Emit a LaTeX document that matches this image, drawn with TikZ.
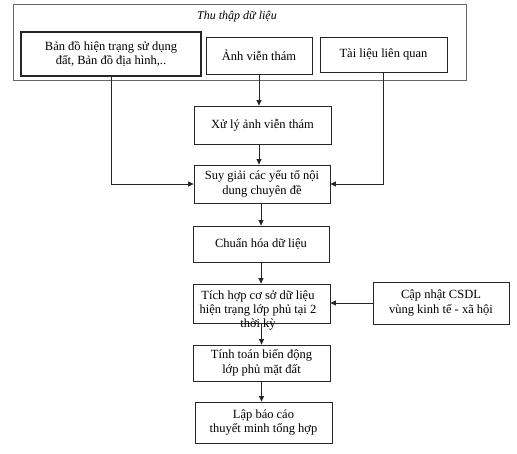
\documentclass[tikz,border=0pt]{standalone}
\usepackage{fontspec}
\setmainfont{Liberation Serif}
\usetikzlibrary{arrows.meta}
\newcommand\boxfont{\fontsize{12.5}{14.5}\selectfont}
\begin{document}
\begin{tikzpicture}[x=1pt,y=-1pt,
  box/.style={draw=black!85, line width=0.8pt, align=center, inner sep=0pt, font=\boxfont},
  outerbox/.style={draw=black!60, line width=0.8pt, inner sep=0pt},
  arr/.style={draw=black!85, line width=0.8pt, -{Triangle[length=5.5pt,width=5pt]}},
  ln/.style={draw=black!85, line width=0.8pt}]
\useasboundingbox (0,0) rectangle (517,453);
\node[outerbox, minimum width=453pt, minimum height=76pt] (outer) at (239.5,42) {};
\node[font=\itshape\fontsize{12}{14}\selectfont, inner sep=0pt] (title) at (237,17) {Thu thập dữ liệu};
\node[box, line width=1.3pt, minimum width=180pt, minimum height=44pt] (b1) at (111,54) {Bản đồ hiện trạng sử dụng\\đất, Bản đồ địa hình,..};
\node[box, minimum width=106pt, minimum height=37pt] (b2) at (259,55.5) {Ảnh viễn thám};
\node[box, minimum width=127pt, minimum height=35pt] (b3) at (383.5,54.5) {Tài liệu liên quan};
\node[box, minimum width=137pt, minimum height=38pt] (xuly) at (262.5,125) {Xử lý ảnh viễn thám};
\node[box, minimum width=136pt, minimum height=38pt] (suy) at (262,184) {Suy giải các yếu tố nội\\dung chuyên đề};
\node[box, minimum width=136pt, minimum height=36pt] (chuan) at (261,244) {Chuẩn hóa dữ liệu};
\node[box, minimum width=137pt, minimum height=39pt] (tich) at (261.5,303.5) {};
\node[font=\fontsize{12.5}{14}\selectfont, align=center, inner sep=0pt, anchor=north] (tichtext) at (258,290.5) {Tích hợp cơ sở dữ liệu\\hiện trạng lớp phủ tại 2\\thời kỳ};
\node[box, minimum width=136pt, minimum height=42pt] (cap) at (441,303) {Cập nhật CSDL\\vùng kinh tế - xã hội};
\node[box, minimum width=137pt, minimum height=36pt] (tinh) at (261.5,363) {Tính toán biến động\\lớp phủ mặt đất};
\node[box, minimum width=137pt, minimum height=41pt] (lap) at (263.5,422.5) {Lập báo cáo\\thuyết minh tổng hợp};
\draw[arr] (b2.south) -- (b2.south |- xuly.north);
\draw[arr] (xuly.south -| b2.south) -- (suy.north -| b2.south);
\draw[arr] (b1.south) |- (suy.west);
\draw[arr] (b3.south) |- (suy.east);
\draw[arr] (suy.south -| chuan.north) -- (chuan.north);
\draw[arr] (chuan.south) -- (chuan.south |- tich.north);
\draw[arr] (cap.west) -- (cap.west -| tich.east);
\draw[arr] (tich.south) -- (tich.south |- tinh.north);
\draw[arr] (tinh.south) -- (tinh.south |- lap.north);
\end{tikzpicture}
\end{document}
